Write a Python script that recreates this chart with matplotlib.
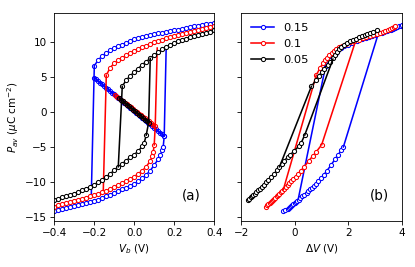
import matplotlib
matplotlib.use("Agg")
import matplotlib.pyplot as plt

# ---------------- panel (a): P vs V_b ----------------
# lower branches (increasing sweep)
v_low_blue = [-0.40, -0.38, -0.36, -0.34, -0.32, -0.30, -0.28, -0.26, -0.24, -0.22,
              -0.20, -0.18, -0.16, -0.14, -0.12, -0.10, -0.08, -0.06, -0.04, -0.02,
              0.00, 0.02, 0.04, 0.06, 0.08, 0.10, 0.12, 0.13, 0.14, 0.145, 0.15]
p_low_blue = [-14.2, -14.05, -13.85, -13.75, -13.6, -13.5, -13.35, -13.2, -13.05, -12.9,
              -12.75, -12.55, -12.35, -12.1, -11.85, -11.6, -11.35, -11.1, -10.85, -10.6,
              -10.3, -9.95, -9.5, -9.0, -8.4, -7.6, -6.75, -6.2, -5.5, -5.0, -3.45]

v_low_red = [-0.40, -0.38, -0.36, -0.34, -0.32, -0.30, -0.28, -0.26, -0.24, -0.22,
             -0.20, -0.18, -0.16, -0.14, -0.12, -0.10, -0.08, -0.06, -0.04, -0.02,
             0.00, 0.02, 0.04, 0.06, 0.08, 0.09, 0.095, 0.10]
p_low_red = [-13.6, -13.35, -13.2, -13.05, -12.9, -12.75, -12.6, -12.45, -12.3, -12.1,
             -11.9, -11.7, -11.5, -11.3, -11.05, -10.8, -10.5, -10.2, -9.9, -9.6,
             -9.25, -8.85, -8.4, -7.85, -7.0, -6.3, -5.7, -4.7]

v_low_black = [-0.40, -0.38, -0.36, -0.34, -0.32, -0.30, -0.28, -0.26, -0.24, -0.22,
               -0.20, -0.18, -0.16, -0.14, -0.12, -0.10, -0.08, -0.06, -0.04, -0.02,
               0.00, 0.02, 0.04, 0.05, 0.06]
p_low_black = [-12.6, -12.45, -12.25, -12.1, -11.9, -11.7, -11.5, -11.25, -11.0, -10.7,
               -10.4, -10.05, -9.7, -9.3, -8.85, -8.35, -7.85, -7.4, -6.95, -6.5,
               -6.1, -5.6, -4.9, -4.4, -3.3]

# upper branches (decreasing sweep)
v_up_blue = [-0.20, -0.18, -0.16, -0.14, -0.12, -0.10, -0.08, -0.06, -0.04, -0.02,
             0.00, 0.02, 0.04, 0.06, 0.08, 0.10, 0.12, 0.14, 0.16, 0.18,
             0.20, 0.22, 0.24, 0.26, 0.28, 0.30, 0.32, 0.34, 0.36, 0.38, 0.40]
p_up_blue = [6.65, 7.5, 8.05, 8.5, 8.85, 9.15, 9.45, 9.7, 9.95, 10.2,
             10.45, 10.6, 10.75, 10.9, 11.05, 11.15, 11.3, 11.4, 11.5, 11.6,
             11.75, 11.85, 11.95, 12.05, 12.15, 12.3, 12.4, 12.5, 12.6, 12.7, 12.85]

v_up_red = [-0.14, -0.12, -0.10, -0.08, -0.06, -0.04, -0.02, 0.00, 0.02, 0.04,
            0.06, 0.08, 0.10, 0.12, 0.14, 0.16, 0.18, 0.20, 0.22, 0.24,
            0.26, 0.28, 0.30, 0.32, 0.34, 0.36, 0.38, 0.40]
p_up_red = [5.3, 6.4, 7.0, 7.45, 7.8, 8.15, 8.5, 8.8, 9.05, 9.3,
            9.55, 9.8, 10.0, 10.2, 10.4, 10.6, 10.75, 10.9, 11.05, 11.2,
            11.35, 11.5, 11.6, 11.75, 11.9, 12.0, 12.15, 12.3]

v_up_black = [-0.06, -0.04, -0.02, 0.00, 0.02, 0.04, 0.06, 0.08, 0.10, 0.12,
              0.14, 0.16, 0.18, 0.20, 0.22, 0.24, 0.26, 0.28, 0.30, 0.32,
              0.34, 0.36, 0.38, 0.40]
p_up_black = [3.7, 4.6, 5.2, 5.75, 6.25, 6.8, 7.25, 7.7, 8.15, 8.6,
              9.0, 9.35, 9.65, 9.9, 10.15, 10.35, 10.55, 10.75, 10.9, 11.05,
              11.2, 11.35, 11.5, 11.76]

# unstable (negative slope) branches
v_mid_blue = [-0.20, -0.19, -0.18, -0.17, -0.16, -0.15, -0.14, -0.13, -0.12, -0.11,
              -0.10, -0.09, -0.08, -0.07, -0.06, -0.05, -0.04, -0.03, -0.02, -0.01,
              0.00, 0.01, 0.02, 0.03, 0.04, 0.05, 0.06, 0.07, 0.08, 0.09,
              0.10, 0.11, 0.12, 0.13, 0.14, 0.15]
p_mid_blue = [4.93, 4.69, 4.45, 4.21, 3.97, 3.73, 3.49, 3.25, 3.01, 2.77,
              2.53, 2.30, 2.06, 1.82, 1.58, 1.34, 1.10, 0.86, 0.62, 0.38,
              0.14, -0.10, -0.34, -0.58, -0.82, -1.06, -1.30, -1.53, -1.77, -2.01,
              -2.25, -2.49, -2.73, -2.97, -3.21, -3.45]

v_mid_red = [-0.095, -0.085, -0.075, -0.065, -0.055, -0.045, -0.035, -0.025, -0.015, -0.005,
             0.005, 0.015, 0.025, 0.035, 0.045, 0.055, 0.065, 0.075, 0.085, 0.095, 0.105]
p_mid_red = [2.45, 2.23, 2.00, 1.78, 1.56, 1.34, 1.11, 0.89, 0.67, 0.45,
             0.22, 0.0, -0.22, -0.44, -0.67, -0.89, -1.11, -1.33, -1.56, -1.78, -2.0]

v_mid_black = [-0.075, -0.065, -0.055, -0.045, -0.035, -0.025, -0.015, -0.005,
               0.005, 0.015, 0.025, 0.035, 0.045, 0.055, 0.065, 0.072]
p_mid_black = [2.05, 1.80, 1.56, 1.32, 1.08, 0.84, 0.60, 0.36,
               0.12, -0.12, -0.36, -0.60, -0.84, -1.08, -1.32, -1.50]

# switching jumps in (a): (V, P) end points
jump_a = {
    "blue": [([0.15, 0.16], [-3.45, 9.4]), ([-0.20, -0.215], [6.65, -11.9])],
    "red": [([0.10, 0.105, 0.115], [-4.7, -2.0, 9.2]), ([-0.14, -0.155], [5.3, -11.2])],
    "black": [([0.06, 0.072, 0.08], [-3.3, -1.5, 7.7]), ([-0.06, -0.08], [3.7, -7.85])],
}

# ---------------- panel (b): P vs delta V ----------------
dv_low_blue = [-0.45, -0.35, -0.26, -0.23, -0.18, -0.15, -0.10, -0.05, -0.01, 0.04,
               0.08, 0.145, 0.21, 0.28, 0.36, 0.44, 0.51, 0.585, 0.65, 0.71,
               0.79, 0.88, 0.99, 1.08, 1.20, 1.35, 1.50, 1.60, 1.73, 1.81]
dv_up_blue = [1.15, 1.32, 1.42, 1.52, 1.62, 1.72, 1.85, 1.98, 2.15, 2.33,
              2.52, 2.64, 2.76, 2.88, 3.0, 3.08, 3.18, 3.26, 3.34, 3.42,
              3.52, 3.60, 3.67, 3.74, 3.81, 3.88, 3.94, 4.0, 4.06, 4.12, 4.2]

dv_low_red = [-1.09, -1.02, -0.98, -0.94, -0.90, -0.86, -0.82, -0.78, -0.74, -0.68,
              -0.63, -0.57, -0.52, -0.47, -0.40, -0.34, -0.27, -0.20, -0.13, -0.055,
              0.03, 0.125, 0.23, 0.35, 0.52, 0.67, 0.80, 1.0]
dv_up_red = [0.8, 0.95, 1.05, 1.13, 1.2, 1.28, 1.37, 1.46, 1.55, 1.65,
             1.77, 1.92, 2.07, 2.22, 2.38, 2.54, 2.67, 2.8, 2.93, 3.05,
             3.17, 3.28, 3.36, 3.46, 3.55, 3.61, 3.68, 3.74]

dv_low_black = [-1.73, -1.69, -1.64, -1.60, -1.55, -1.50, -1.45, -1.38, -1.31, -1.24,
                -1.16, -1.07, -0.98, -0.88, -0.77, -0.67, -0.57, -0.49, -0.39, -0.27,
                -0.16, -0.03, 0.15, 0.24, 0.37]
dv_up_black = [0.62, 0.79, 0.9, 1.0, 1.1, 1.22, 1.32, 1.42, 1.5, 1.58,
               1.66, 1.74, 1.83, 1.93, 2.04, 2.16, 2.28, 2.4, 2.5, 2.6,
               2.7, 2.8, 2.9, 3.05]

jump_b = {
    "blue": [([1.81, 3.1], [-5.0, 11.1]), ([1.15, 0.13], [6.65, -12.45])],
    "red": [([1.0, 2.24], [-4.7, 9.9]), ([0.8, -0.43], [5.3, -11.17])],
    "black": [([0.37, 1.42], [-3.3, 7.6]), ([0.62, -0.57], [3.7, -7.85])],
}

labels = {"blue": "0.15", "red": "0.1", "black": "0.05"}

series = {
    "blue": (v_low_blue, p_low_blue, v_up_blue, p_up_blue, v_mid_blue, p_mid_blue,
             dv_low_blue, dv_up_blue),
    "red": (v_low_red, p_low_red, v_up_red, p_up_red, v_mid_red, p_mid_red,
            dv_low_red, dv_up_red),
    "black": (v_low_black, p_low_black, v_up_black, p_up_black, v_mid_black, p_mid_black,
              dv_low_black, dv_up_black),
}

plt.rcParams['font.size'] = 10
fig = plt.figure(figsize=(415 / 75, 267 / 75), dpi=75)
ax1 = fig.add_axes([0.131, 0.173, 0.385, 0.779])
ax2 = fig.add_axes([0.581, 0.173, 0.388, 0.779], sharey=ax1)

mk = dict(marker='o', ms=4, mew=1.0, lw=1.5)

for c in ["blue", "red", "black"]:
    vl, pl, vu, pu, vm, pm, dvl, dvu = series[c]
    ax1.plot(vl, pl, color=c, mfc='white', **mk)
    ax1.plot(vu, pu, color=c, mfc='white', **mk)
    ax1.plot(vm, pm, color=c, mfc='none', **mk)
    for xs, ys in jump_a[c]:
        ax1.plot(xs, ys, color=c, lw=1.5)

    # (b) lower branch uses the stable points only (drop the turning point)
    ax2.plot(dvl, pl[:len(dvl)], color=c, mfc='white', label=labels[c], **mk)
    ax2.plot(dvu, pu, color=c, mfc='white', **mk)
    for xs, ys in jump_b[c]:
        ax2.plot(xs, ys, color=c, lw=1.5)

ax1.set_xlim(-0.4, 0.4)
ax1.set_ylim(-15.6, 14.25)
ax1.set_xticks([-0.4, -0.2, 0.0, 0.2, 0.4])
ax1.set_yticks([-15, -10, -5, 0, 5, 10])
ax1.set_xlabel(r"$V_b$ (V)")
ax1.set_ylabel(r"$P_{av}$ ($\mu$C cm$^{-2}$)")
ax1.text(0.86, 0.12, "(a)", transform=ax1.transAxes, ha='center', va='center', fontsize=13)

ax2.set_xlim(-2, 4)
ax2.set_xticks([-2, 0, 2, 4])
ax2.tick_params(labelleft=False)
ax2.set_xlabel(r"$\Delta V$ (V)")
ax2.text(0.86, 0.12, "(b)", transform=ax2.transAxes, ha='center', va='center', fontsize=13)
ax2.legend(loc='upper left', frameon=False, fontsize=11, handlelength=2.0)

fig.savefig("out.png", dpi=75)
